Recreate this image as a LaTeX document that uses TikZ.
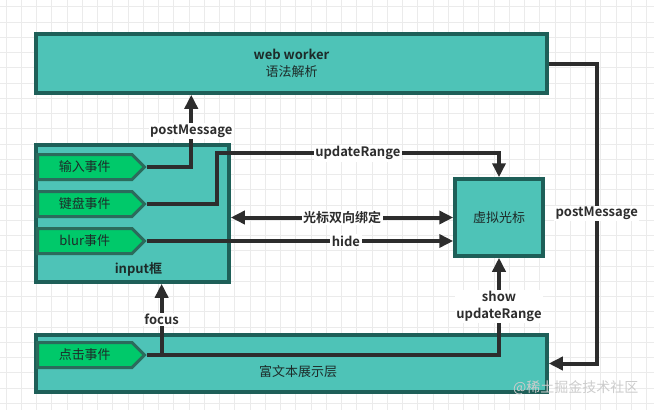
\documentclass[tikz,border=0pt]{standalone}
\usepackage{fontspec}
\setmainfont{Noto Sans CJK SC}[BoldFont={Noto Sans CJK SC Bold}]
\usetikzlibrary{shapes.symbols,arrows.meta,calc}
\definecolor{panelfill}{HTML}{4EC3B7}
\definecolor{panelline}{HTML}{1E5F58}
\definecolor{tabfill}{HTML}{00C96A}
\definecolor{tabline}{HTML}{2B6B5C}
\definecolor{wire}{HTML}{2D2D2D}
\definecolor{txt}{HTML}{1D2B29}
\definecolor{gridc}{HTML}{EBEBEB}
\newcommand{\diafont}{\fontsize{13}{16.5}\selectfont}
\tikzset{
  panel/.style={rectangle, draw=panelline, fill=panelfill, line width=3.5pt, inner sep=0pt, align=center, text=txt},
  tab/.style={signal, signal to=east, signal pointer angle=90, draw=tabline, fill=tabfill, line width=3pt, minimum width=107pt, minimum height=25pt, inner sep=0pt, text=txt},
  conn/.style={->, >={Triangle[length=14pt,width=13pt]}, line width=4pt, draw=wire},
  clbl/.style={font=\diafont\bfseries, fill=white, inner sep=1.5pt, text=wire, align=center},
  gridline/.style={draw=gridc, line width=0.8pt},
}

\begin{document}
\begin{tikzpicture}[x=1pt, y=-1pt, font=\diafont]
  \useasboundingbox (0,0) rectangle (654,410);
  % background grid
  \foreach \i in {0,...,42} \draw[gridline] ({6+15.25*\i},0) -- ++(0,410);
  \foreach \j in {0,...,26} \draw[gridline] (0,{6.7+15.25*\j}) -- ++(654,0);
  % panels
  \node[panel, minimum width=511pt, minimum height=59pt] (worker) at (291.5,63.5) {\textbf{web worker}\\语法解析};
  \node[panel, minimum width=193pt, minimum height=137pt, label={[anchor=center, yshift=14pt, xshift=6pt, font=\diafont\bfseries, text=txt]south:input框}] (inputbox) at (132.5,213.5) {};
  \node[panel, minimum width=88pt, minimum height=77pt] (cursor) at (499,217.5) {虚拟光标};
  \node[panel, minimum width=511pt, minimum height=57pt, label={[anchor=center, yshift=-8.5pt, xshift=6.5pt, text=txt]center:富文本展示层}] (richtext) at (291.5,363.5) {};
  % event tabs
  \node[tab, anchor=west] (key) at (36,167) {输入事件};
  \node[tab, anchor=west] (keyboard) at (36,204) {键盘事件};
  \node[tab, anchor=west] (blur) at (36,241) {blur事件};
  \node[tab, anchor=west] (click) at (36,355) {点击事件};
  \coordinate (fork) at ([xshift=15pt]click.east);
  % connectors
  \draw[conn] (key.east) -| node[clbl, pos=0.75] {postMessage} ([xshift=157pt]worker.south west);
  \draw[conn] (keyboard.east) -- ++(70,0) |- node[clbl, pos=0.75] {updateRange} ([yshift=24pt]cursor.north) -- (cursor.north);
  \draw[conn, <->] (inputbox.east |- cursor.west) -- node[clbl] {光标双向绑定} (cursor.west);
  \draw[conn] (blur.east) -- node[clbl, pos=0.65] {hide} (blur.east -| cursor.west);
  \draw[conn] (worker.east) -- ++(48,0) |- node[clbl, pos=0.25] {postMessage} (richtext.east);
  \draw[conn] (click.east) -| node[clbl, pos=0.75] {show\\updateRange} (cursor.south);
  \draw[conn] (fork) -- node[clbl] {focus} (fork |- inputbox.south);
  \node[text=gray!40, font=\fontsize{14}{16}\selectfont, anchor=east] (mark) at (642,388) {@稀土掘金技术社区};
\end{tikzpicture}
\end{document}
